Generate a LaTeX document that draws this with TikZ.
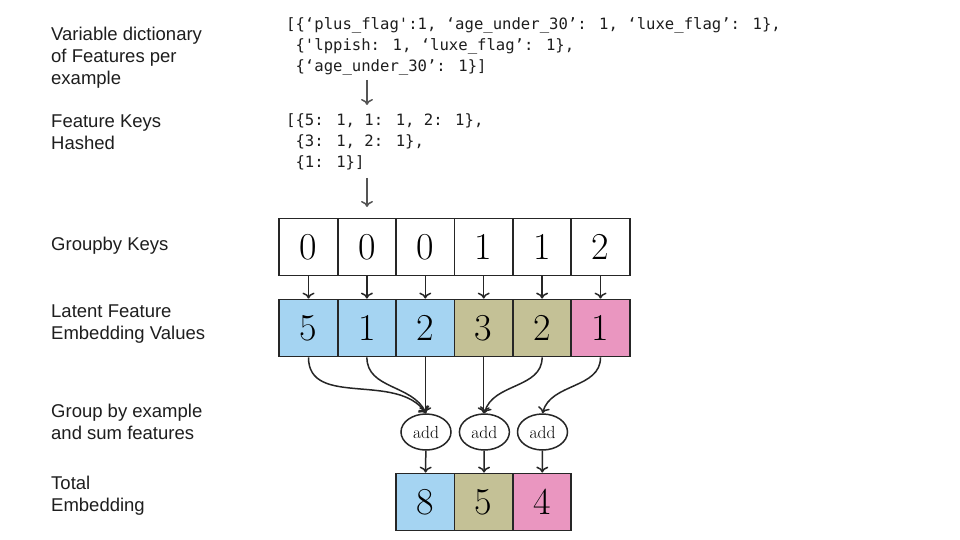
\documentclass[tikz,border=0pt]{standalone}
\usepackage{fontspec}
\usetikzlibrary{arrows.meta,shapes.geometric}
\newfontfamily\labfont{Liberation Sans}
\newfontfamily\codefont{DejaVu Sans Mono}
\definecolor{cblue}{HTML}{A5D4F2}
\definecolor{colive}{HTML}{C4C196}
\definecolor{cpink}{HTML}{EA96C0}
\definecolor{txt}{HTML}{1E1E1E}
\definecolor{garrow}{HTML}{555555}
\tikzset{
  lab/.style={anchor=west,align=left,text=txt,inner sep=0pt,font=\labfont\fontsize{18.5}{22}\selectfont},
  code/.style={anchor=west,align=left,text=txt,inner sep=0pt,font=\codefont\fontsize{15.6}{21}\selectfont},
  cell/.style={draw=black!85,line width=1.8pt,minimum width=58.4pt,minimum height=57pt,inner sep=0pt,font=\fontsize{38}{40}\selectfont},
  addn/.style={draw=black!85,ellipse,line width=1.5pt,minimum width=50pt,minimum height=36pt,inner sep=0pt,font=\fontsize{17.5}{18}\selectfont},
  conn/.style={draw=black!85,line width=1.5pt,-{To[length=6pt,width=12pt]}},
  garr/.style={draw=garrow,line width=1.5pt,-{To[length=6pt,width=12pt]}}
}
\begin{document}
\begin{tikzpicture}[x=1pt,y=1pt]
\path[use as bounding box,fill=white] (0,0) rectangle (960,-540);
% left labels
\node[lab] (l1) at (51,-58) {Variable dictionary\\of Features per\\example};
\node[lab] (l2) at (51,-132) {Feature Keys\\Hashed};
\node[lab] (l3) at (51,-246) {Groupby Keys};
\node[lab] (l4) at (51,-324) {Latent Feature\\Embedding Values};
\node[lab] (l5) at (51,-422) {Group by example\\and sum features};
\node[lab] (l6) at (51,-496) {Total\\Embedding};
% code blocks
\node[code] (c1) at (286,-46) {[\{‘plus\_flag':1, ‘age\_under\_30’: 1, ‘luxe\_flag’: 1\},\\~\{'lppish: 1, ‘luxe\_flag’: 1\},\\~\{‘age\_under\_30’: 1\}]};
\node[code] (c2) at (286,-142) {[\{5: 1, 1: 1, 2: 1\},\\~\{3: 1, 2: 1\},\\~\{1: 1\}]};
\coordinate (a1s) at (367,-80);
\coordinate (a1e) at (367,-105);
\coordinate (a2s) at (367,-178);
\coordinate (a2e) at (367,-207);
\draw[garr] (a1s) -- (a1e);
\draw[garr] (a2s) -- (a2e);
% key cells
\foreach \i/\k in {1/0,2/0,3/0,4/1,5/1,6/2}{
  \node[cell] (k\i) at ({308.5+58.4*(\i-1)},-247) {\k};
}
\foreach \i/\v/\c in {1/5/cblue,2/1/cblue,3/2/cblue,4/3/colive,5/2/colive,6/1/cpink}{
  \node[cell,fill=\c] (e\i) at ({308.5+58.4*(\i-1)},-328) {\v};
  \draw[conn] (k\i) -- (e\i);
}
% add nodes
\foreach \i/\x in {1/426,2/484.4,3/542.5}{
  \node[addn] (a\i) at (\x,-432) {add};
}
\draw[conn] (e1.south) to[out=-90,in=125,looseness=1] (a1.north);
\draw[conn] (e2.south) to[out=-90,in=115,looseness=1] (a1.north);
\draw[conn] (e3.south) -- (e3.south |- a1.north);
\draw[conn] (e4.south) -- (e4.south |- a2.north);
\draw[conn] (e5.south) to[out=-90,in=75,looseness=1] (a2.north);
\draw[conn] (e6.south) to[out=-90,in=75,looseness=1] (a3.north);
% totals
\foreach \i/\v/\c in {1/8/cblue,2/5/colive,3/4/cpink}{
  \node[cell,fill=\c] (t\i) at ({425.3+58.4*(\i-1)},-502) {\v};
  \draw[conn] (a\i) -- (t\i);
}
\end{tikzpicture}
\end{document}
